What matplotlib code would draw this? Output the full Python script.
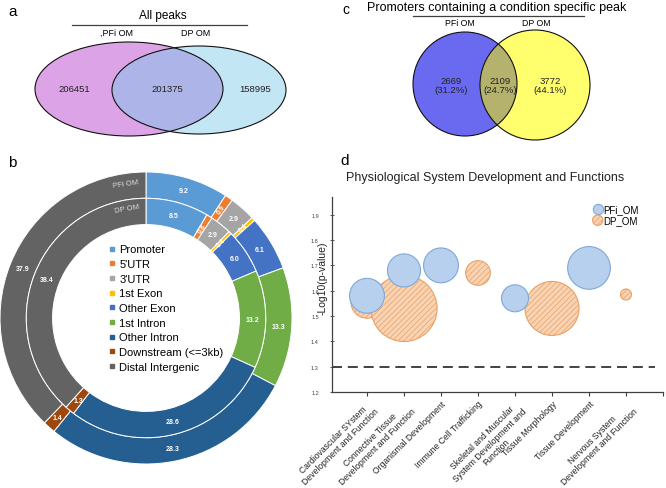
import numpy as np
import matplotlib
matplotlib.use('Agg')
import matplotlib.pyplot as plt
import matplotlib.transforms as mtransforms
from matplotlib.patches import Ellipse, Circle
from matplotlib.lines import Line2D

plt.rcParams['font.family'] = ['Liberation Sans', 'DejaVu Sans']

# ---------------- data ----------------
# Panel a
venn_a_title = 'All peaks'
venn_a_sets = [',PFi OM', 'DP OM']
venn_a_counts = [206451, 201375, 158995]   # PFi only, both, DP only

# Panel b
genomic_features = ['Promoter', "5'UTR", "3'UTR", '1st Exon', 'Other Exon',
                    '1st Intron', 'Other Intron', 'Downstream (<=3kb)',
                    'Distal Intergenic']
pfi_om_pct = [9.2, 0.9, 2.9, 0.4, 6.1, 13.3, 28.3, 1.4, 37.9]
dp_om_pct = [8.5, 0.8, 2.9, 0.4, 6.0, 13.2, 28.6, 1.3, 38.4]
ring_names = ['PFi OM', 'DP OM']

# Panel c
venn_c_title = 'Promoters containing a condition specific peak'
venn_c_sets = ['PFi OM', 'DP OM']
venn_c_counts = [2669, 2109, 3772]
venn_c_pcts = [31.2, 24.7, 44.1]

# Panel d
d_title = 'Physiological System Development and Functions'
d_categories = ['Cardiovascular SYstem\nDevelopment and Function',
                'Connective Tissue\nDevelopment and Function',
                'Organismal Development',
                'Immune Cell Trafficking',
                'Skeletal and Muscular\nSystem Development and\nFunction',
                'Tissue Morphology',
                'Tissue Development',
                'Nervous System\nDevelopment and Function']
nan = np.nan
pfi_logp = [1.58, 1.68, 1.70, nan, 1.57, nan, 1.69, nan]
pfi_size = [10, 9, 10, nan, 6, nan, 15, nan]
dp_logp = [1.555, 1.53, nan, 1.67, nan, 1.53, nan, 1.585]
dp_size = [8.5, 36, nan, 5, nan, 24, nan, 1]
d_series = ['PFi_OM', 'DP_OM']
d_yticks = [1.2, 1.3, 1.4, 1.5, 1.6, 1.7, 1.8, 1.9]
d_threshold = 1.3

# ---------------- figure ----------------
W, H = 666, 489
fig = plt.figure(figsize=(W / 100, H / 100), dpi=100)


def box(l, t, w, h):
    return [l / W, 1 - (t + h) / H, w / W, h / H]


ov = fig.add_axes([0, 0, 1, 1])
ov.set_xlim(0, W)
ov.set_ylim(H, 0)
ov.axis('off')

# ---- panel a ----
ov.text(8, 12, 'a', fontsize=11, va='center', ha='left')
ov.text(163, 16, venn_a_title, fontsize=8.5, ha='center', va='center')
ov.plot([72, 247], [26, 26], color='#404040', lw=0.9)
ov.text(117, 33, venn_a_sets[0], fontsize=6.5, ha='center', va='center')
ov.text(196, 33, venn_a_sets[1], fontsize=6.5, ha='center', va='center')

ea1 = Ellipse((129, 90), 188, 94, fc='#dca4e6', ec='none')
ea2 = Ellipse((199, 91), 174, 88, fc='#c2e6f4', ec='none')
ov.add_patch(ea1)
ov.add_patch(ea2)
ea_ov = Ellipse((129, 90), 188, 94, fc='#adb5e8', ec='none')
ov.add_patch(ea_ov)
ea_ov.set_clip_path(ea2)
ov.add_patch(Ellipse((129, 90), 188, 94, fill=False, ec='#111111', lw=0.8))
ov.add_patch(Ellipse((199, 91), 174, 88, fill=False, ec='#111111', lw=0.8))
for xx, v in zip([74, 167, 255], venn_a_counts):
    ov.text(xx, 90, str(v), fontsize=6.8, ha='center', va='center', color='#222222')

# ---- panel c ----
ov.text(342, 10, 'c', fontsize=10, va='center', ha='left')
ov.text(497, 8, venn_c_title, fontsize=9, ha='center', va='center')
ov.plot([413, 584], [17, 17], color='#404040', lw=0.9)
ov.text(460, 23, venn_c_sets[0], fontsize=6.3, ha='center', va='center')
ov.text(536, 23, venn_c_sets[1], fontsize=6.3, ha='center', va='center')
cc1 = Circle((465, 85), 52, fc='#6a6af0', ec='none')
cc2 = Circle((535, 86), 55, fc='#ffff6e', ec='none')
ov.add_patch(cc1)
ov.add_patch(cc2)
cc_ov = Circle((465, 85), 52, fc='#b4b26c', ec='none')
ov.add_patch(cc_ov)
cc_ov.set_clip_path(cc2)
ov.add_patch(Circle((465, 85), 52, fill=False, ec='#111111', lw=0.8))
ov.add_patch(Circle((535, 86), 55, fill=False, ec='#111111', lw=0.8))
for xx, n, p in zip([451, 500, 550], venn_c_counts, venn_c_pcts):
    ov.text(xx, 86, f'{n}\n({p}%)', fontsize=6.8, ha='center', va='center',
            color='#222222', linespacing=1.1)

# ---- panel b ----
ov.text(8, 163, 'b', fontsize=11, va='center', ha='left')
feat_colors = ['#5b9bd5', '#ed7d31', '#a5a5a5', '#ffc000', '#4472c4',
               '#70ad47', '#255e91', '#9e480e', '#636363']
axb = fig.add_axes(box(0, 173, 292, 292))
wo, _ = axb.pie(pfi_om_pct, radius=1.0, startangle=90, counterclock=False,
                colors=feat_colors,
                wedgeprops=dict(width=0.18, edgecolor='white', linewidth=0.7))
wi, _ = axb.pie(dp_om_pct, radius=0.82, startangle=90, counterclock=False,
                colors=feat_colors,
                wedgeprops=dict(width=0.18, edgecolor='white', linewidth=0.7))
axb.set_xlim(-1, 1)
axb.set_ylim(-1, 1)
axb.set_aspect('equal')
axb.axis('off')
for wedges, vals, r in [(wo, pfi_om_pct, 0.91), (wi, dp_om_pct, 0.73)]:
    for w, v in zip(wedges, vals):
        ang = (w.theta1 + w.theta2) / 2
        a = np.deg2rad(ang)
        small = v < 1
        axb.text(r * np.cos(a), r * np.sin(a), f'{v:.1f}', fontsize=5,
                 fontweight='bold', color='white', ha='center', va='center',
                 rotation=(ang if small else 0))
for name, r, ang in [(ring_names[0], 0.93, 98.5), (ring_names[1], 0.76, 100)]:
    a = np.deg2rad(ang)
    axb.text(r * np.cos(a), r * np.sin(a), name, fontsize=5.5, color='#dddddd',
             ha='center', va='center', rotation=ang - 90)
handles = [Line2D([], [], marker='s', ls='', mfc=c, mec=c, ms=2.6) for c in feat_colors]
axb.legend(handles, genomic_features, loc='center', bbox_to_anchor=(0.57, 0.534),
           frameon=False, fontsize=8, handlelength=0.5, handletextpad=0.4,
           labelspacing=0.42, borderpad=0, borderaxespad=0)

# ---- panel d ----
ov.text(340, 161, 'd', fontsize=11, va='center', ha='left')
ov.text(485, 178, d_title, fontsize=9, ha='center', va='center', color='#222222')
axd = fig.add_axes(box(332, 198, 331, 195))
xs = np.arange(len(d_categories))
plt.rcParams['hatch.color'] = '#e9a064'
plt.rcParams['hatch.linewidth'] = 0.5
sc_dp = axd.scatter(xs, dp_logp, s=np.array(dp_size) * 63, facecolor='#f8d3b4',
                    edgecolor='#e9a064', linewidth=0.8, hatch='//////', zorder=2)
sc_pfi = axd.scatter(xs, pfi_logp, s=np.array(pfi_size) * 63, facecolor='#b6d0ee',
                     edgecolor='#80a8d8', linewidth=0.8, zorder=3)
axd.axhline(d_threshold, xmin=0, xmax=0.975, color='#222222', lw=1.2,
            dashes=(6, 3.5), zorder=1)
axd.set_xlim(-0.946, 8.0)
axd.set_ylim(1.2, 1.97)
axd.set_xticks(np.arange(len(d_categories) + 1))
axd.set_xticklabels(d_categories + [''], fontsize=6.2, color='#222222')
shift = mtransforms.ScaledTranslation(6 / 100, 0, fig.dpi_scale_trans)
for lbl in axd.get_xticklabels():
    lbl.set_rotation(45)
    lbl.set_ha('right')
    lbl.set_rotation_mode('anchor')
    lbl.set_multialignment('center')
    lbl.set_linespacing(1.1)
    lbl.set_transform(lbl.get_transform() + shift)
axd.tick_params(axis='x', length=3, width=0.8, color='#404040', pad=2)
axd.set_yticks(d_yticks)
axd.set_yticklabels([f'{v:.1f}' for v in d_yticks], fontsize=4, color='#444444')
axd.tick_params(axis='y', length=3, width=0.6, direction='inout', pad=8, color='#404040')
axd.set_ylabel('-Log10(p-value)', fontsize=7.5, color='#222222')
axd.yaxis.set_label_coords(-0.012, 0.59)
for s in ['top', 'right']:
    axd.spines[s].set_visible(False)
for s in ['left', 'bottom']:
    axd.spines[s].set_color('#404040')
    axd.spines[s].set_linewidth(0.9)
axd.set_facecolor('none')
leg = axd.legend([sc_pfi, sc_dp], d_series, loc='upper left',
                 bbox_to_anchor=(0.772, 0.99), frameon=False, fontsize=7,
                 handletextpad=0.0, labelspacing=0.1, borderpad=0, scatterpoints=1,
                 handlelength=1.1)
for h in leg.legend_handles:
    h.set_sizes([55])

fig.savefig('out.png', dpi=100)
